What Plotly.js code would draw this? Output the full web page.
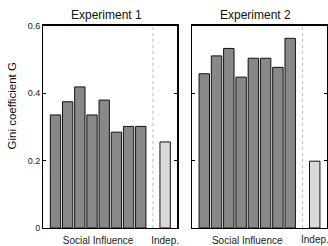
<!DOCTYPE html>
<html><head><meta charset="utf-8">
<script src="https://cdn.plot.ly/plotly-3.0.1.min.js"></script>
<style>html,body{margin:0;padding:0;background:#fff;}#chart{width:328px;height:246px;}</style>
</head><body><div id="chart"></div>
<script>
// Data
const socialX = [1, 2, 3, 4, 5, 6, 7, 8];
const indepX = [10];
const exp1Social = [0.335, 0.374, 0.418, 0.335, 0.379, 0.284, 0.301, 0.301];
const exp1Indep = [0.255];
const exp2Social = [0.457, 0.510, 0.532, 0.447, 0.503, 0.503, 0.476, 0.562];
const exp2Indep = [0.198];
const panelTitles = ["Experiment 1", "Experiment 2"];
const xTickVals = [4.5, 10];
const xTickText = ["Social Influence", "Indep."];
const yTickVals = [0, 0.2, 0.4, 0.6];
const yTickText = ["0", "0.2", "0.4", "0.6"];
const yTitle = "Gini coefficient G";

const FONT = "Liberation Sans, Arial, sans-serif";
const darkFill = "#888888", lightFill = "#d9d9d9";

function barTrace(x, y, color, xa, ya) {
  return {type: "bar", x: x, y: y, xaxis: xa, yaxis: ya, width: 0.85,
    marker: {color: color, line: {color: "#111", width: 1}}, hoverinfo: "none", showlegend: false};
}
const data = [
  barTrace(socialX, exp1Social, darkFill, "x", "y"),
  barTrace(indepX, exp1Indep, lightFill, "x", "y"),
  barTrace(socialX, exp2Social, darkFill, "x2", "y2"),
  barTrace(indepX, exp2Indep, lightFill, "x2", "y2")
];

const yDom = [18/246, 220.5/246];
function xAxis(domain, vals, text) {
  return {domain: domain, range: [0, 11], showgrid: false, zeroline: false,
    showline: true, mirror: true, linecolor: "#000", linewidth: 1.3,
    tickmode: "array", tickvals: vals, ticktext: text, ticks: "", ticklabelstandoff: 3,
    tickfont: {family: FONT, size: 10, color: "#222"}, fixedrange: true};
}
function yAxis(anchor, labels) {
  return {domain: yDom, anchor: anchor, range: [0, 0.6], showgrid: false, zeroline: false,
    showline: true, mirror: "ticks", linecolor: "#000", linewidth: 1.3,
    tickmode: "array", tickvals: yTickVals, ticktext: yTickText,
    showticklabels: labels, ticks: "inside", ticklen: 3, tickcolor: "#000",
    tickfont: {family: FONT, size: 9, color: "#222"}, fixedrange: true};
}
const layout = {
  width: 328, height: 246, margin: {l: 0, r: 0, t: 0, b: 0},
  paper_bgcolor: "#fff", plot_bgcolor: "#fff", bargap: 0,
  xaxis: xAxis([43.3/328, 177.3/328], xTickVals, xTickText),
  xaxis2: xAxis([192/328, 327/328], [xTickVals[0]], [xTickText[0]]),
  yaxis: yAxis("x", true),
  yaxis2: yAxis("x2", false),
  shapes: [
    {type: "line", xref: "x", yref: "y", x0: 9, x1: 9, y0: 0, y1: 0.6, line: {color: "#bbb", width: 1, dash: "dot"}},
    {type: "line", xref: "x2", yref: "y2", x0: 9, x1: 9, y0: 0, y1: 0.6, line: {color: "#bbb", width: 1, dash: "dot"}}
  ],
  annotations: [
    {text: panelTitles[0], xref: "paper", yref: "paper", x: 106/328, y: 1 - 15.5/246, xanchor: "center", yanchor: "middle", showarrow: false, font: {family: FONT, size: 12, color: "#111"}},
    {text: panelTitles[1], xref: "paper", yref: "paper", x: 255.5/328, y: 1 - 15.5/246, xanchor: "center", yanchor: "middle", showarrow: false, font: {family: FONT, size: 12, color: "#111"}},
    {text: xTickText[1], xref: "x2", yref: "paper", x: xTickVals[1], y: 1 - 239.5/246, xanchor: "center", yanchor: "middle", showarrow: false, font: {family: FONT, size: 10, color: "#222"}},
    {text: yTitle, xref: "paper", yref: "paper", x: 12/328, y: 1 - 106.5/246, xanchor: "center", yanchor: "middle", textangle: -90, showarrow: false, font: {family: FONT, size: 11.5, color: "#111"}}
  ]
};
Plotly.newPlot("chart", data, layout, {staticPlot: true, displayModeBar: false});
</script></body></html>
